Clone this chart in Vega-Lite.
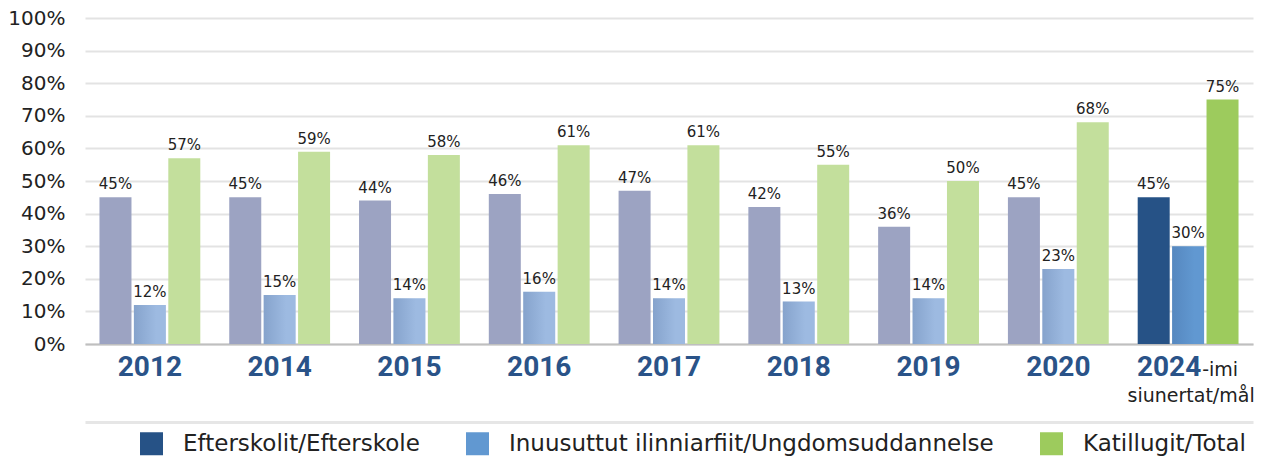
{
  "$schema": "https://vega.github.io/schema/vega-lite/v6.json",
  "width": 1168,
  "height": 326,
  "autosize": {"type": "none"},
  "padding": {"left": 85, "top": 18, "right": 10, "bottom": 116},
  "background": "white",
  "config": {
    "view": {"stroke": null},
    "font": "DejaVu Sans",
    "axisY": {
      "title": null, "labelFontSize": 20, "labelColor": "#222222", "labelFont": "DejaVu Sans",
      "labelPadding": 20, "ticks": false, "domain": false, "grid": true,
      "gridColor": "#e3e3e3", "gridWidth": 2, "labelOverlap": false
    },
    "axisX": {
      "title": null, "labelAngle": 0, "ticks": false, "grid": false,
      "domainColor": "#bfbfbf", "domainWidth": 2,
      "labelFont": "Roboto", "labelFontWeight": "bold", "labelFontSize": 28,
      "labelColor": "#2A5388", "labelPadding": 9
    }
  },
  "data": {
    "values": [
      {"year": "2012", "series": "Efterskolit/Efterskole", "value": 0.45},
      {"year": "2012", "series": "Inuusuttut ilinniarfiit/Ungdomsuddannelse", "value": 0.12},
      {"year": "2012", "series": "Katillugit/Total", "value": 0.57},
      {"year": "2014", "series": "Efterskolit/Efterskole", "value": 0.45},
      {"year": "2014", "series": "Inuusuttut ilinniarfiit/Ungdomsuddannelse", "value": 0.15},
      {"year": "2014", "series": "Katillugit/Total", "value": 0.59},
      {"year": "2015", "series": "Efterskolit/Efterskole", "value": 0.44},
      {"year": "2015", "series": "Inuusuttut ilinniarfiit/Ungdomsuddannelse", "value": 0.14},
      {"year": "2015", "series": "Katillugit/Total", "value": 0.58},
      {"year": "2016", "series": "Efterskolit/Efterskole", "value": 0.46},
      {"year": "2016", "series": "Inuusuttut ilinniarfiit/Ungdomsuddannelse", "value": 0.16},
      {"year": "2016", "series": "Katillugit/Total", "value": 0.61},
      {"year": "2017", "series": "Efterskolit/Efterskole", "value": 0.47},
      {"year": "2017", "series": "Inuusuttut ilinniarfiit/Ungdomsuddannelse", "value": 0.14},
      {"year": "2017", "series": "Katillugit/Total", "value": 0.61},
      {"year": "2018", "series": "Efterskolit/Efterskole", "value": 0.42},
      {"year": "2018", "series": "Inuusuttut ilinniarfiit/Ungdomsuddannelse", "value": 0.13},
      {"year": "2018", "series": "Katillugit/Total", "value": 0.55},
      {"year": "2019", "series": "Efterskolit/Efterskole", "value": 0.36},
      {"year": "2019", "series": "Inuusuttut ilinniarfiit/Ungdomsuddannelse", "value": 0.14},
      {"year": "2019", "series": "Katillugit/Total", "value": 0.50},
      {"year": "2020", "series": "Efterskolit/Efterskole", "value": 0.45},
      {"year": "2020", "series": "Inuusuttut ilinniarfiit/Ungdomsuddannelse", "value": 0.23},
      {"year": "2020", "series": "Katillugit/Total", "value": 0.68},
      {"year": "2024", "series": "Efterskolit/Efterskole", "value": 0.45},
      {"year": "2024", "series": "Inuusuttut ilinniarfiit/Ungdomsuddannelse", "value": 0.30},
      {"year": "2024", "series": "Katillugit/Total", "value": 0.75}
    ]
  },
  "layer": [
    {
      "transform": [{"filter": "datum.year != '2024'"}],
      "mark": {"type": "bar"},
      "encoding": {
        "x": {
          "field": "year", "type": "nominal",
          "scale": {"paddingInner": 0.223, "paddingOuter": 0.1115},
          "axis": {
            "orient": "bottom",
            "labelOffset": {"condition": {"test": "datum.value == '2024'", "value": -19}, "value": 0}
          }
        },
        "xOffset": {
          "field": "series", "type": "nominal",
          "scale": {"domain": ["Efterskolit/Efterskole", "Inuusuttut ilinniarfiit/Ungdomsuddannelse", "Katillugit/Total"], "paddingInner": 0.07, "paddingOuter": 0}
        },
        "y": {
          "field": "value", "type": "quantitative",
          "scale": {"domain": [0, 1], "nice": false},
          "axis": {
            "orient": "left",
            "values": [0, 0.1, 0.2, 0.3, 0.4, 0.5, 0.6, 0.7, 0.8, 0.9, 1],
            "format": ".0%"
          }
        },
        "color": {
          "field": "series", "type": "nominal",
          "scale": {"domain": ["Efterskolit/Efterskole", "Inuusuttut ilinniarfiit/Ungdomsuddannelse", "Katillugit/Total"], "range": ["#9CA3C2", "#9DBAE1", "#C3DF9C"]},
          "legend": null
        }
      }
    },
    {
      "transform": [{"filter": "datum.year == '2024'"}],
      "mark": {"type": "bar"},
      "encoding": {
        "x": {
          "field": "year", "type": "nominal",
          "axis": {"orient": "bottom", "labels": false, "offset": 78, "domainColor": "#e6e6e6", "domainWidth": 3}
        },
        "xOffset": {"field": "series", "type": "nominal"},
        "y": {"field": "value", "type": "quantitative", "axis": null},
        "color": {
          "field": "series", "type": "nominal",
          "scale": {"domain": ["Efterskolit/Efterskole", "Inuusuttut ilinniarfiit/Ungdomsuddannelse", "Katillugit/Total"], "range": ["#265286", "#6198D1", "#9DCB5D"]},
          "legend": {
            "title": null, "orient": "none", "legendX": 55, "legendY": 414,
            "direction": "horizontal", "symbolType": "square", "symbolSize": 529,
            "symbolStrokeWidth": 0, "labelFont": "DejaVu Sans", "labelFontSize": 23,
            "labelColor": "#222222", "labelOffset": 20, "columnPadding": 46,
            "padding": 0, "labelLimit": 800
          }
        }
      }
    },
    {
      "transform": [{"filter": "datum.series == 'Inuusuttut ilinniarfiit/Ungdomsuddannelse'"}],
      "mark": {
        "type": "bar",
        "fill": {"gradient": "linear", "x1": 0, "x2": 1, "y1": 0, "y2": 0,
          "stops": [{"offset": 0, "color": "rgba(40,70,120,0.2)"}, {"offset": 0.7, "color": "rgba(40,70,120,0)"}]}
      },
      "encoding": {
        "x": {
          "field": "year", "type": "nominal",
          "axis": {
            "orient": "bottom",
            "domain": false, "labelExpr": "datum.value == '2024' ? '-imi' : ''",
            "labelFont": "DejaVu Sans", "labelFontWeight": "normal", "labelFontSize": 19,
            "labelColor": "#222222", "labelBaseline": "alphabetic", "labelPadding": 31,
            "labelOffset": 32
          }
        },
        "xOffset": {"field": "series", "type": "nominal"},
        "y": {"field": "value", "type": "quantitative", "axis": null}
      }
    },
    {
      "mark": {"type": "text", "baseline": "alphabetic", "dy": -8, "fontSize": 15, "color": "#222222", "font": "DejaVu Sans"},
      "encoding": {
        "x": {
          "field": "year", "type": "nominal",
          "axis": {
            "orient": "bottom",
            "domain": false, "labelExpr": "datum.value == '2024' ? 'siunertat/mål' : ''",
            "labelFont": "DejaVu Sans", "labelFontWeight": "normal", "labelFontSize": 19,
            "labelColor": "#222222", "labelBaseline": "alphabetic", "labelPadding": 57,
            "labelOffset": 3, "labelLimit": 300
          }
        },
        "xOffset": {"field": "series", "type": "nominal"},
        "y": {"field": "value", "type": "quantitative", "axis": null},
        "text": {"field": "value", "type": "quantitative", "format": ".0%"}
      }
    }
  ],
  "resolve": {
    "scale": {"color": "independent"},
    "axis": {"x": "independent", "y": "independent"}
  }
}
